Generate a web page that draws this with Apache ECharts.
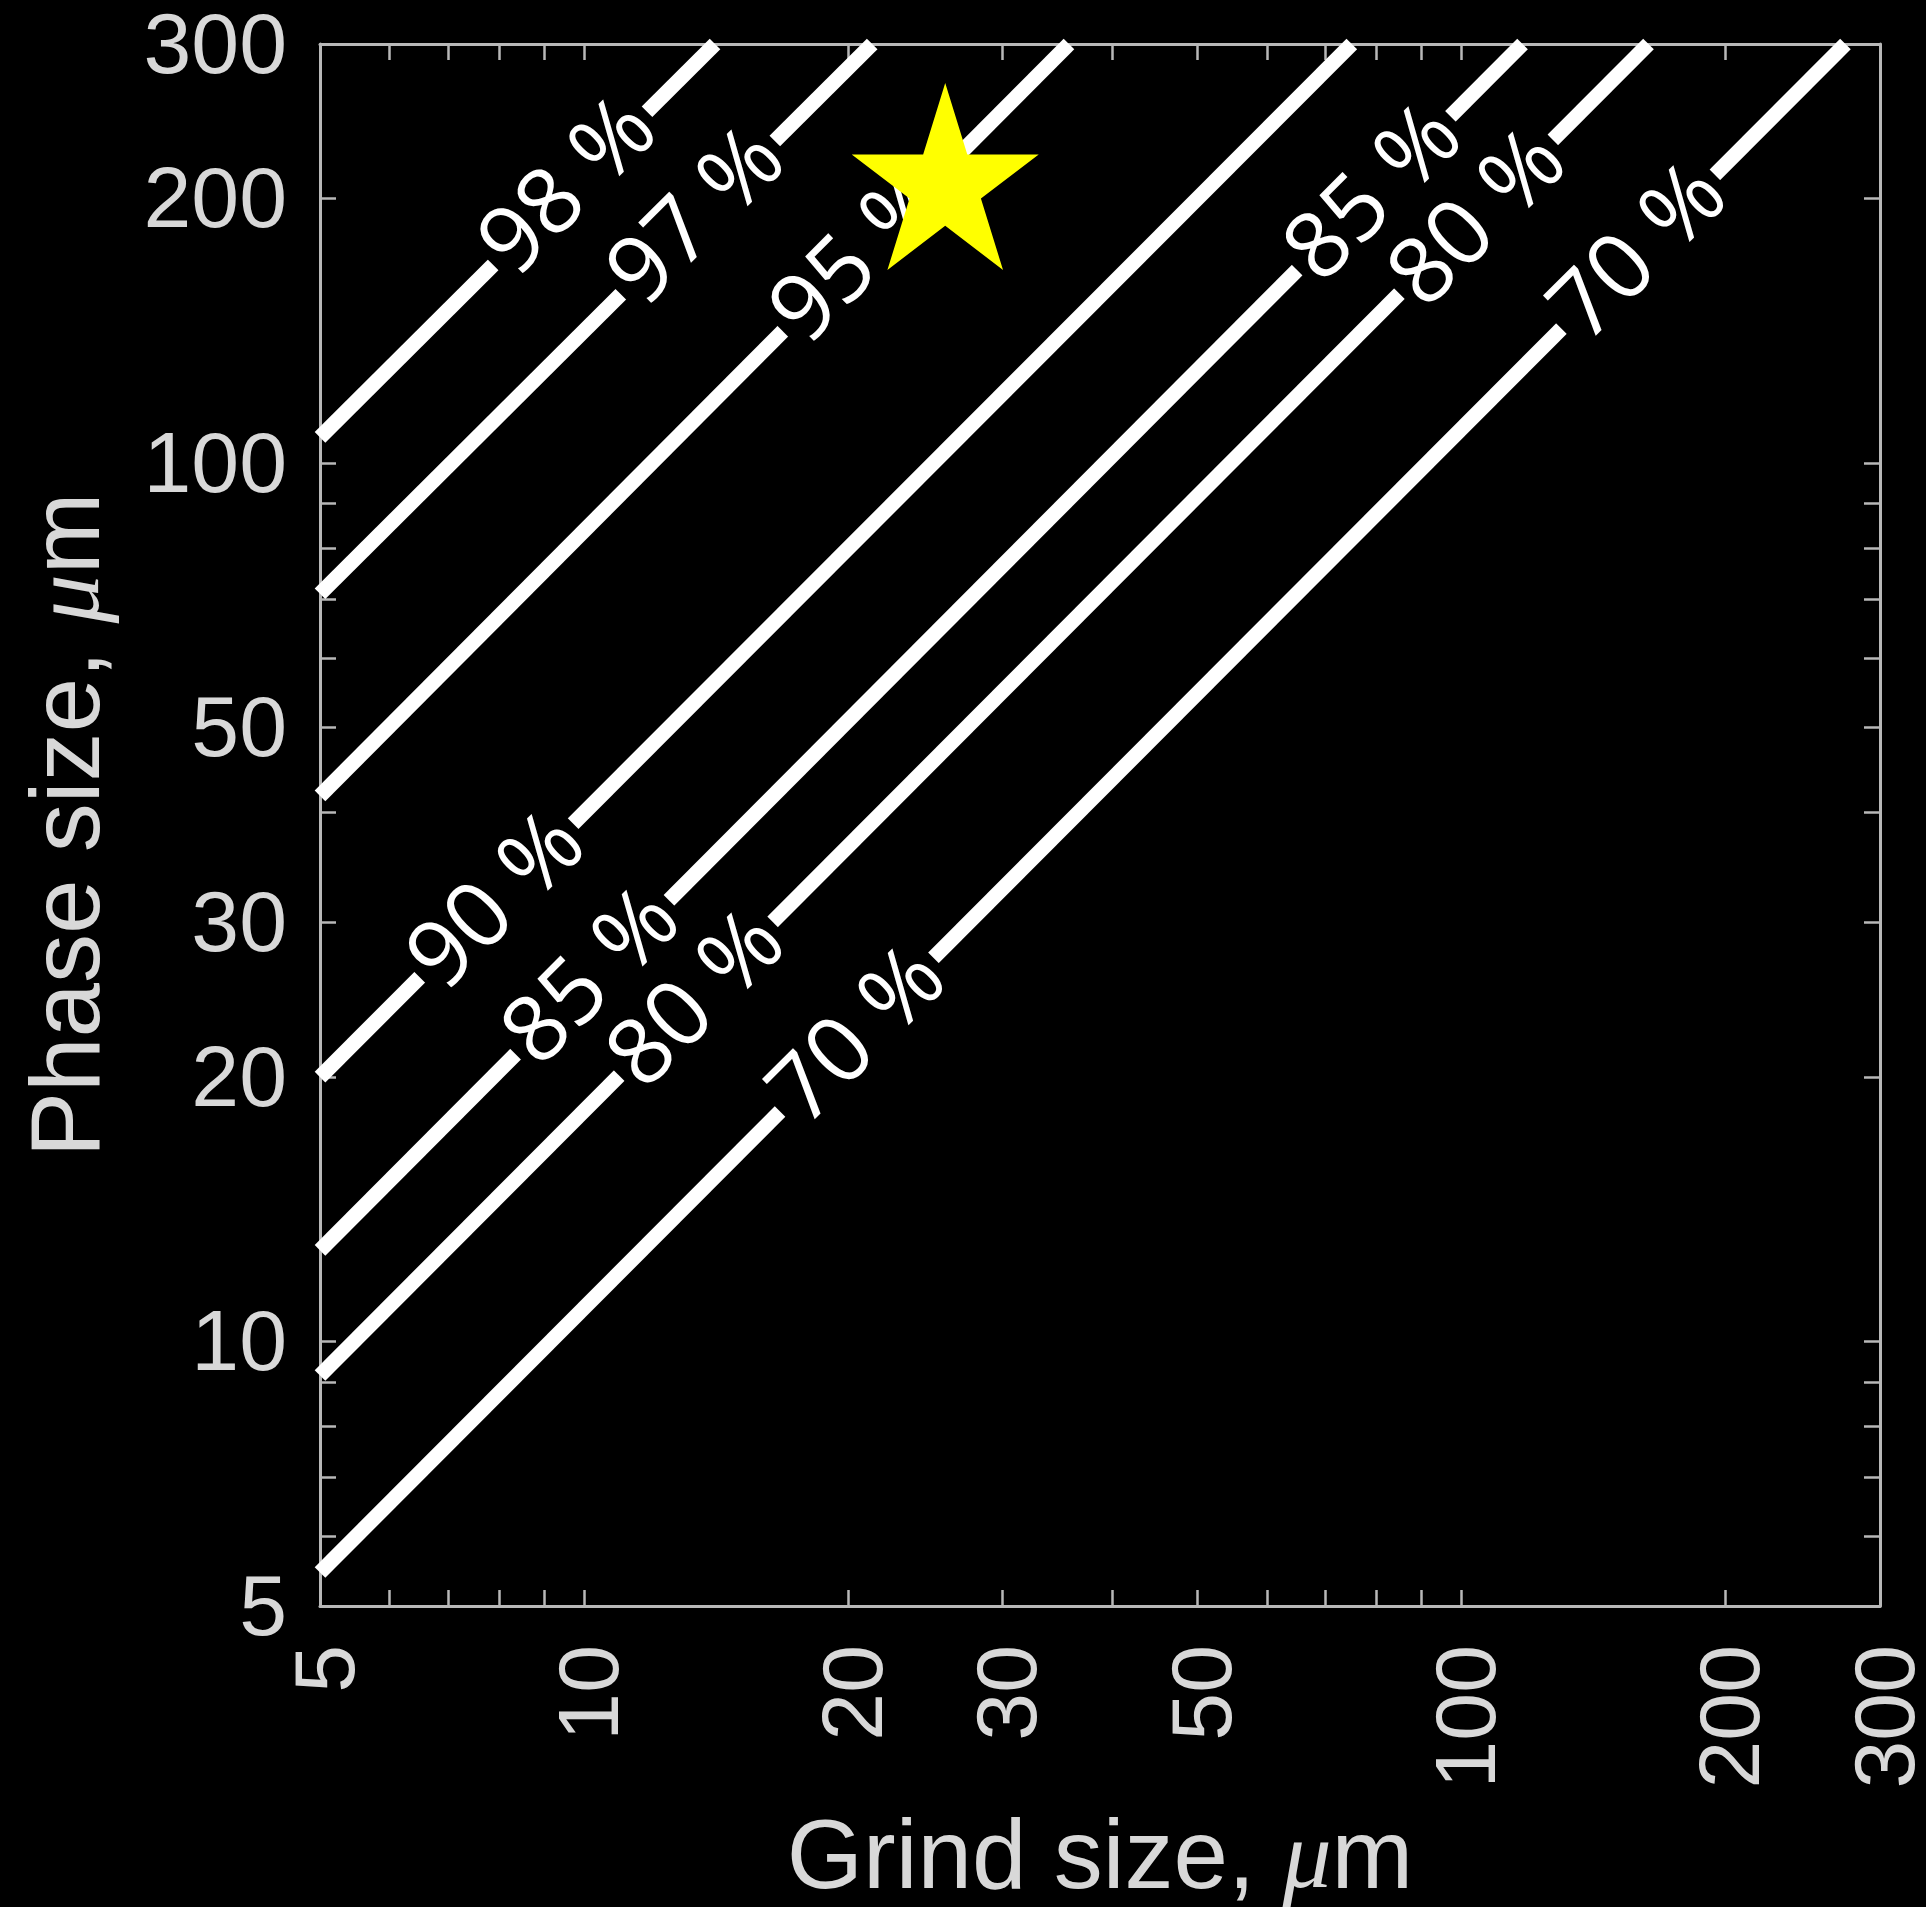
<!DOCTYPE html>
<html><head><meta charset="utf-8">
<script src="https://cdn.jsdelivr.net/npm/echarts@6/dist/echarts.min.js"></script>
<style>html,body{margin:0;padding:0;background:#000}#c{width:1926px;height:1907px}</style>
</head><body><div id="c"></div>
<script>
// contour levels (percent) and their line end points [grind, phase]
const levels = ['98', '97', '95', '90', '85', '80', '70'];
const lineStart = [[5, 107], [5, 71], [5, 41.8], [5, 20], [5, 12.7], [5, 9.15], [5, 5.46]];
const lineEnd = [[14.1, 300], [21.3, 300], [35.7, 300], [75, 300], [117.4, 300], [163.4, 300], [274, 300]];

// contour labels placed on the lines
const labelText = ['98 %', '97 %', '95 %', '90 %', '85 %', '80 %', '70 %', '85 %', '80 %', '70 %'];
const labelX = [9.64, 13.5, 20.7, 7.99, 10.25, 13.5, 20.6, 79.8, 104.9, 160];
const labelY = [205.5, 190, 172, 31.6, 25.9, 24.4, 22.2, 202, 189, 173];

// marker (star)
const starPoint = [25.8, 212];

// axis ticks and labels
const tickValues = [5, 6, 7, 8, 9, 10, 20, 30, 40, 50, 60, 70, 80, 90, 100, 200, 300];
const xLabelValues = [5, 10, 20, 30, 50, 100, 200, 300];
const yLabelValues = [5, 10, 20, 30, 50, 100, 200, 300];

const AXIS = '#b8b8b8', TXT = '#d8d8d8';
const starPath = 'path://M100,0L122.45,69.1L195.1,69.1L136.3,111.8L158.8,180.9L100,138.2L41.2,180.9L63.7,111.8L4.9,69.1L77.55,69.1Z';

function mkAxis(pos, labels, extra) {
  return {
    type: 'log', logBase: 10, min: 5, max: 300, position: pos,
    axisLine: { show: true, onZero: false, lineStyle: { color: AXIS, width: 3 } },
    axisTick: { show: true, inside: true, length: 16, customValues: tickValues, lineStyle: { color: AXIS, width: 2.5 } },
    axisLabel: labels ? Object.assign({ show: true, customValues: labels, color: TXT, fontFamily: 'Liberation Sans', fontSize: 86,
      formatter: v => String(Math.round(v)) }, extra || {}) : { show: false },
    splitLine: { show: false }, minorTick: { show: false }, minorSplitLine: { show: false }
  };
}

const nameRich = {
  a: { color: TXT, fontFamily: 'Liberation Sans', fontSize: 98 },
  b: { color: TXT, fontFamily: 'Liberation Serif', fontStyle: 'italic', fontSize: 98 }
};

const xMain = mkAxis('bottom', xLabelValues, { rotate: 90, margin: 39, verticalAlign: 'top', lineHeight: 20 });
xMain.name = '{a|Grind size, }{b|μ}{a|m}';
xMain.nameLocation = 'middle';
xMain.nameGap = 206;
xMain.nameTextStyle = { rich: nameRich };
const xTop = mkAxis('top', null);

const yMain = mkAxis('left', yLabelValues, { margin: 33, verticalAlign: 'top', lineHeight: 10 });
yMain.name = '{a|Phase size, }{b|μ}{a|m}';
yMain.nameLocation = 'middle';
yMain.nameGap = 199;
yMain.nameTextStyle = { rich: nameRich };
const yRight = mkAxis('right', null);

const series = levels.map((lv, i) => ({
  type: 'line', name: lv + ' %', xAxisIndex: 0, yAxisIndex: 0,
  data: [lineStart[i], lineEnd[i]], showSymbol: false, symbol: 'none', clip: false, z: 2,
  lineStyle: { color: '#ffffff', width: 15, cap: 'butt', opacity: 1 }, silent: true
}));

series.push({
  type: 'scatter', xAxisIndex: 0, yAxisIndex: 0, z: 3, silent: true,
  symbolSize: 0.1, itemStyle: { color: 'rgba(0,0,0,0)', opacity: 1 },
  data: labelText.map((t, i) => [labelX[i], labelY[i], t]),
  label: {
    show: true, position: 'inside', rotate: 45, formatter: p => p.data[2], opacity: 1,
    color: '#ffffff', fontFamily: 'Open Sans', fontSize: 92, lineHeight: 40,
    backgroundColor: '#000000', padding: [0, 6], align: 'center', verticalAlign: 'middle'
  }
});

series.push({
  type: 'scatter', xAxisIndex: 0, yAxisIndex: 0, z: 5, silent: true,
  symbol: starPath, symbolSize: [187, 187], symbolKeepAspect: false,
  itemStyle: { color: '#ffff00', opacity: 1 }, data: [starPoint], clip: false
});

const chart = echarts.init(document.getElementById('c'), null, { renderer: 'canvas' });
chart.setOption({
  animation: false,
  backgroundColor: '#000000',
  grid: { left: 320, right: 46, top: 44, bottom: 301, containLabel: false, outerBoundsMode: 'none' },
  xAxis: [xMain, xTop],
  yAxis: [yMain, yRight],
  series: series
});
</script></body></html>
